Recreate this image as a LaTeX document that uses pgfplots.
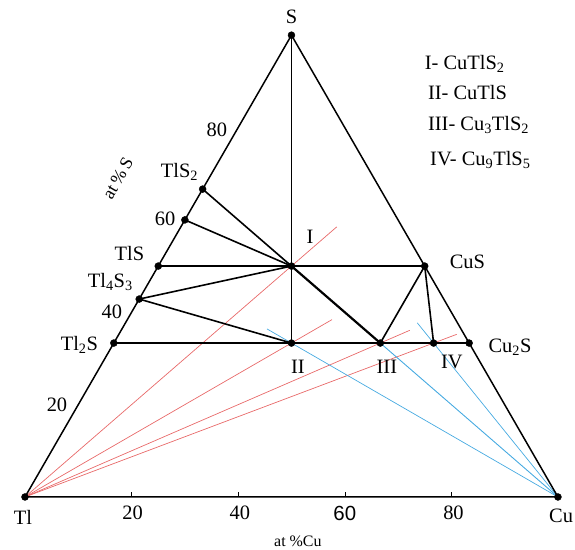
\documentclass[border=0pt]{standalone}
\usepackage{pgfplots}
\pgfplotsset{compat=1.18}
\usepackage{fontspec}
\setmainfont{Liberation Serif}
\newfontfamily\arial{Liberation Sans}
\definecolor{redl}{RGB}{232,105,105}
\definecolor{bluel}{RGB}{70,170,225}
\tikzset{lbl/.style={font=\fontsize{20.5}{23}\selectfont, inner sep=0pt},
  sm/.style={font=\fontsize{16}{19}\selectfont, inner sep=0pt}}
\begin{document}
\begin{tikzpicture}
\begin{axis}[width=575bp,height=550bp,scale only axis,
  xmin=-4.69,xmax=103.2,ymin=-9.94,ymax=93.2,
  axis lines=none, clip=false, unbounded coords=jump]
\path (rel axis cs:0,0) rectangle (rel axis cs:1,1);
% red lines from Tl
\addplot[redl, line width=0.7pt] coordinates {(0,0) (58.5,50.66)};
\addplot[redl, line width=0.7pt] coordinates {(0,0) (57.6,33.26)};
\addplot[redl, line width=0.7pt] coordinates {(0,0) (72.2,31.26)};
\addplot[redl, line width=0.7pt] coordinates {(0,0) (81.0,30.5)};
% blue lines from Cu
\addplot[bluel, line width=0.9pt] coordinates {(100,0) (45.5,47.2)};
\addplot[bluel, line width=0.7pt] coordinates {(100,0) (45.4,31.52)};
\addplot[bluel, line width=0.7pt] coordinates {(100,0) (73.6,32.66)};
% triangle
\addplot[black, line width=1.5pt] coordinates {(0,0) (100,0) (50,86.603) (0,0)};
% bottom ticks
\addplot[black, line width=0.5pt] coordinates {(20,0) (20,1) (20,nan) (40,0) (40,1) (40,nan) (60,0) (60,1) (60,nan) (80,0) (80,1)};
% tie lines
\addplot[black, line width=1.6pt] coordinates {(50,86.603) (50,28.868)};
\addplot[black, line width=1.6pt] coordinates {(33.333,57.735) (50,43.301)};
\addplot[black, line width=1.6pt] coordinates {(30,51.962) (50,43.301)};
\addplot[black, line width=1.6pt] coordinates {(25,43.301) (75,43.301)};
\addplot[black, line width=1.6pt] coordinates {(21.429,37.115) (50,43.301)};
\addplot[black, line width=1.6pt] coordinates {(21.429,37.115) (50,28.868)};
\addplot[black, line width=1.5pt] coordinates {(16.667,28.868) (83.333,28.868)};
\addplot[black, line width=2.2pt] coordinates {(50,43.301) (66.667,28.868)};
\addplot[black, line width=1.6pt] coordinates {(75,43.301) (66.667,28.868)};
\addplot[black, line width=1.6pt] coordinates {(75,43.301) (76.667,28.868)};
% points
\addplot[only marks, mark=*, mark size=3.5bp, black] coordinates {
(0,0) (100,0) (50,86.603) (16.667,28.868) (21.429,37.115) (25,43.301) (30,51.962)
(33.333,57.735) (50,43.301) (50,28.868) (66.667,28.868) (76.667,28.868)
(83.333,28.868) (75,43.301)};
% labels
\node[lbl] at (axis cs:50,90.1) {S};
\node[lbl] at (axis cs:-0.4,-3.8) {Tl};
\node[lbl] at (axis cs:100.6,-3.6) {Cu};
\node[lbl] at (axis cs:20.2,-3.0) {20};
\node[lbl] at (axis cs:40.3,-3.0) {40};
\node[lbl] at (axis cs:60.0,-3.0) {\arial 60};
\node[lbl] at (axis cs:80.4,-3.0) {80};
\node[sm] at (axis cs:51.2,-8.3) {at \%Cu};
\node[lbl] at (axis cs:36.0,68.9) {80};
\node[lbl] at (axis cs:26.3,52.2) {60};
\node[lbl] at (axis cs:16.3,34.7) {40};
\node[lbl] at (axis cs:6.0,17.3) {20};
\node[font=\fontsize{18}{21}\selectfont, inner sep=0pt, rotate=60] at (axis cs:17.4,59.8) {at\,\%\,S};
\node[lbl] at (axis cs:29.0,61.0) {TlS\textsubscript{2}};
\node[lbl] at (axis cs:19.6,45.6) {TlS};
\node[lbl] at (axis cs:16.0,40.3) {Tl\textsubscript{4}S\textsubscript{3}};
\node[lbl] at (axis cs:10.2,28.5) {Tl\textsubscript{2}S};
\node[lbl] at (axis cs:53.5,48.8) {I};
\node[lbl] at (axis cs:51.2,24.4) {II};
\node[lbl] at (axis cs:67.9,24.4) {III};
\node[lbl] at (axis cs:80.1,25.3) {IV};
\node[lbl] at (axis cs:83.0,44.1) {CuS};
\node[lbl] at (axis cs:91.0,28.1) {Cu\textsubscript{2}S};
\node[lbl, anchor=west] at (axis cs:75.0,81.2) {I- CuTlS\textsubscript{2}};
\node[lbl, anchor=west] at (axis cs:75.6,75.8) {II- CuTlS};
\node[lbl, anchor=west] at (axis cs:75.6,69.8) {III- Cu\textsubscript{3}TlS\textsubscript{2}};
\node[lbl, anchor=west] at (axis cs:76.0,63.2) {IV- Cu\textsubscript{9}TlS\textsubscript{5}};
\end{axis}
\end{tikzpicture}
\end{document}
